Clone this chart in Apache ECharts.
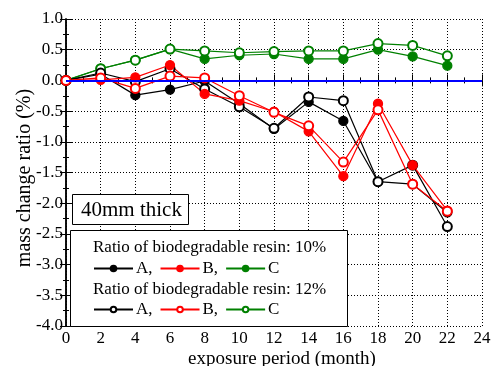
<!DOCTYPE html>
<html><head><meta charset="utf-8">
<script src="https://cdn.jsdelivr.net/npm/echarts@6/dist/echarts.min.js"></script>
<style>html,body{margin:0;padding:0;background:#fff}#c{width:498px;height:366px}</style>
</head><body><div id="c"></div>
<script>
var months = [0, 2, 4, 6, 8, 10, 12, 14, 16, 18, 20, 22];
var A10 = [0, 0.10, -0.24, -0.15, -0.01, -0.38, -0.79, -0.35, -0.66, -1.65, -1.69, -2.15];
var B10 = [0, 0.01, 0.05, 0.25, -0.22, -0.33, -0.51, -0.83, -1.56, -0.38, -1.38, -2.12];
var C10 = [0, 0.19, 0.33, 0.51, 0.35, 0.41, 0.43, 0.35, 0.35, 0.50, 0.39, 0.24];
var A12 = [0, 0.12, -0.02, 0.19, -0.14, -0.43, -0.78, -0.27, -0.33, -1.65, -1.38, -2.38];
var B12 = [0, 0.04, -0.13, 0.07, 0.04, -0.25, -0.52, -0.74, -1.33, -0.48, -1.69, -2.13];
var C12 = [0, 0.19, 0.33, 0.51, 0.48, 0.45, 0.47, 0.48, 0.48, 0.60, 0.57, 0.40];
var legendLabels = {A10: 'A,', B10: 'B,', C10: 'C', A12: 'A,', B12: 'B,', C12: 'C'};
var header10 = 'Ratio of biodegradable resin: 10%';
var header12 = 'Ratio of biodegradable resin: 12%';
var boxText = '40mm thick';
var xTitle = 'exposure period (month)';
var yTitle = 'mass change ratio (%)';

var FONT = '"Liberation Serif", "Times New Roman", serif';
function pairs(v){ return months.map(function(m,i){ return [m, v[i]]; }); }
function mk(name, vals, color, filled){
  return {
    name: name, type: 'line', data: pairs(vals), color: color,
    symbol: filled ? 'circle' : 'emptyCircle', symbolSize: 9,
    lineStyle: {width: 1.2, color: color},
    itemStyle: {color: color, borderColor: color, borderWidth: 1.3},
    z: 3, animation: false
  };
}
var chart = echarts.init(document.getElementById('c'), null, {renderer: 'canvas'});
var tickCommon = {show: true, inside: true, length: 6, lineStyle: {color: '#000', width: 1}};
var minorCommon = {show: true, splitNumber: 2, length: 3, lineStyle: {color: '#000', width: 1}};
var series = [
  mk('C10', C10, '#008000', true),
  mk('C12', C12, '#008000', false),
  mk('A10', A10, '#000000', true),
  mk('A12', A12, '#000000', false),
  mk('B10', B10, '#ff0000', true),
  mk('B12', B12, '#ff0000', false)
];
series.push({
  type: 'line', data: [], silent: true,
  markLine: {symbol: ['none','none'], silent: true, label: {show: false},
    lineStyle: {color: '#0000ff', width: 2, type: 'solid'},
    data: [{yAxis: 0}]},
  z: 2
});
var legendCommon = {
  orient: 'horizontal', itemWidth: 39, itemHeight: 7, itemGap: 7,
  selectedMode: false,
  textStyle: {fontFamily: FONT, fontSize: 17, color: '#000', padding: [0,0,0,-2]},
  formatter: function(n){ return legendLabels[n]; },
  padding: 0, z: 10
};
chart.setOption({
  backgroundColor: '#fff',
  animation: false,
  grid: {left: 66, right: 16, top: 19, bottom: 40, show: false},
  xAxis: [{
    type: 'value', min: 0, max: 24, interval: 2,
    axisLine: {show: true, lineStyle: {color: '#000', width: 1.5}},
    axisTick: tickCommon, minorTick: minorCommon,
    axisLabel: {fontFamily: FONT, fontSize: 17, color: '#000', margin: 4},
    splitLine: {show: true, lineStyle: {color: '#000', width: 1, type: [1, 2]}}
  }, {
    type: 'value', min: 0, max: 24, interval: 2, position: 'top',
    axisLine: {show: true, lineStyle: {color: '#000', width: 1.5}},
    axisTick: tickCommon, minorTick: minorCommon,
    axisLabel: {show: false}, splitLine: {show: false}
  }],
  yAxis: [{
    type: 'value', min: -4, max: 1, interval: 0.5,
    axisLine: {show: true, lineStyle: {color: '#000', width: 1.5}},
    axisTick: tickCommon, minorTick: minorCommon,
    axisLabel: {fontFamily: FONT, fontSize: 17, color: '#000', margin: 3,
      formatter: function(v){ return v.toFixed(1); }},
    splitLine: {show: true, lineStyle: {color: '#000', width: 1, type: [1, 2]}}
  }, {
    type: 'value', min: -4, max: 1, interval: 0.5, position: 'right',
    axisLine: {show: true, lineStyle: {color: '#000', width: 1.5}},
    axisTick: tickCommon, minorTick: minorCommon,
    axisLabel: {show: false}, splitLine: {show: false}
  }],
  legend: [
    Object.assign({}, legendCommon, {data: ['A10','B10','C10'], left: 93, top: 260}),
    Object.assign({}, legendCommon, {data: ['A12','B12','C12'], left: 93, top: 301})
  ],
  graphic: [
    {type: 'text', z: 6, x: 25, y: 178, rotation: Math.PI / 2,
      style: {text: yTitle, font: '20px ' + FONT, fill: '#000', align: 'center', verticalAlign: 'middle'}},
    {type: 'text', z: 6, x: 282, y: 359,
      style: {text: xTitle, font: '19px ' + FONT, fill: '#000', align: 'center', verticalAlign: 'middle'}},
    {type: 'rect', z: 5, shape: {x: 70.5, y: 230.5, width: 277, height: 96},
      style: {fill: '#fff', stroke: '#000', lineWidth: 1}},
    {type: 'text', z: 6, x: 93, y: 248,
      style: {text: header10, font: '17px ' + FONT, fill: '#000', verticalAlign: 'middle'}},
    {type: 'text', z: 6, x: 93, y: 289.5,
      style: {text: header12, font: '17px ' + FONT, fill: '#000', verticalAlign: 'middle'}},
    {type: 'rect', z: 5, shape: {x: 72.5, y: 194.5, width: 116, height: 30},
      style: {fill: '#fff', stroke: '#000', lineWidth: 1}},
    {type: 'text', z: 6, x: 81, y: 210,
      style: {text: boxText, font: '21px ' + FONT, fill: '#000', verticalAlign: 'middle'}}
  ],
  series: series
});
</script></body></html>
